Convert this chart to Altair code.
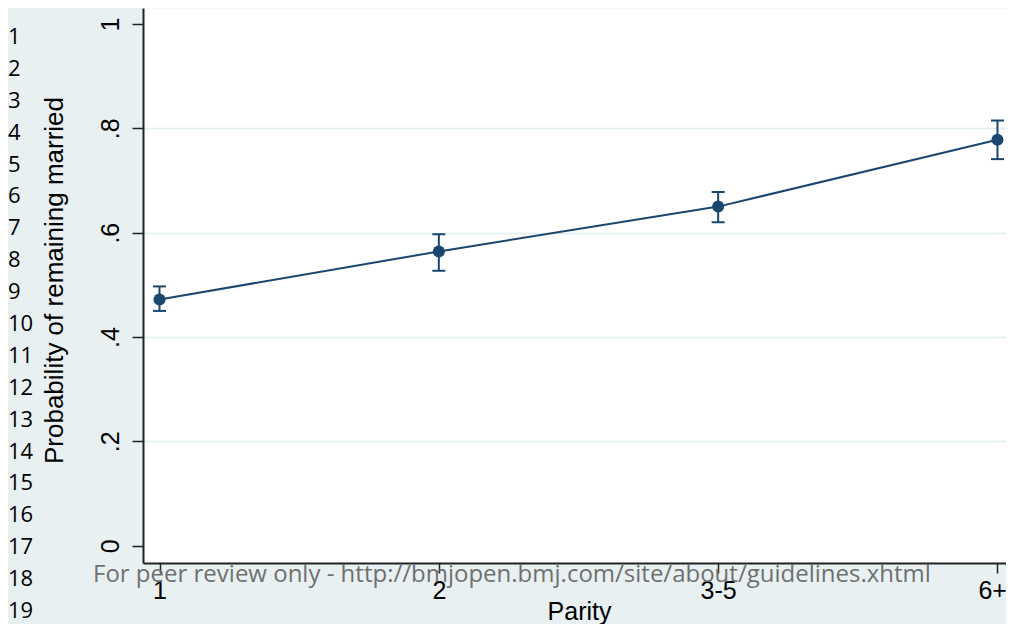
import json
import altair as alt
import pandas as pd

# ---- data ----
parity_labels = ["1", "2", "3-5", "6+"]
parity_pos = [1, 2, 3, 4]
prob = [0.472, 0.564, 0.650, 0.778]
ci_low = [0.450, 0.527, 0.620, 0.741]
ci_high = [0.497, 0.597, 0.678, 0.815]
y_ticks = [0, 0.2, 0.4, 0.6, 0.8, 1]
y_tick_labels = ["0", ".2", ".4", ".6", ".8", "1"]
line_numbers = list(range(1, 20))
watermark = "For peer review only - http://bmjopen.bmj.com/site/about/guidelines.xhtml"

df = pd.DataFrame({"pos": parity_pos, "parity": parity_labels,
                   "prob": prob, "lo": ci_low, "hi": ci_high})

NAVY = "#1a476f"
BG = "#E8F0F2"
GRID = "#E4EDEF"
AXC = "#222222"
FONT = "Liberation Sans"

xs = alt.Scale(domain=[0.9409, 4.0305], nice=False, zero=False)
ys = alt.Scale(domain=[-0.0332, 1.0307], nice=False, zero=False)

x_label_expr = json.dumps([""] + parity_labels) + "[round(datum.value)]"
y_label_expr = json.dumps(y_tick_labels) + "[round(datum.value * 5)]"
last_x = "datum.value == %d" % parity_pos[-1]

x_axis = alt.Axis(
    values=parity_pos, labelExpr=x_label_expr, title="Parity", grid=False,
    labelFlush=False, labelOverlap=False, labelBaseline="alphabetic",
    labelAlign={"condition": {"test": last_x, "value": "right"}, "value": "center"},
    labelOffset={"condition": {"test": last_x, "value": 9}, "value": 0},
    labelPadding=25, tickSize=10,
    titleX=436, titleY=56, titleBaseline="alphabetic", titleAlign="center",
)
y_axis = alt.Axis(
    values=y_ticks, labelExpr=y_label_expr, title="Probability of remaining married",
    grid=True,
    gridColor={"condition": {"test": "datum.value == 0 || datum.value == 1", "value": "white"},
               "value": GRID},
    labelFlush=False, labelOverlap=False, labelAngle=270, labelAlign="center",
    labelBaseline="alphabetic", labelPadding=14, tickSize=11,
    titleAngle=270, titleX=-81, titleY=272, titleAlign="center", titleBaseline="alphabetic",
    titleFontSize=26,
)

base = alt.Chart(df)
X = alt.X("pos:Q", scale=xs, axis=x_axis)

line = base.mark_line(color=NAVY, strokeWidth=2).encode(
    x=X, y=alt.Y("prob:Q", scale=ys, axis=y_axis))
bars = base.mark_rule(color=NAVY, strokeWidth=2).encode(
    x="pos:Q", y=alt.Y("lo:Q", scale=ys), y2="hi:Q")
cap_lo = base.mark_tick(color=NAVY, orient="horizontal", size=13, thickness=2, opacity=1).encode(
    x="pos:Q", y=alt.Y("lo:Q", scale=ys))
cap_hi = base.mark_tick(color=NAVY, orient="horizontal", size=13, thickness=2, opacity=1).encode(
    x="pos:Q", y=alt.Y("hi:Q", scale=ys))
pts = base.mark_circle(color=NAVY, size=145, opacity=1).encode(
    x="pos:Q", y=alt.Y("prob:Q", scale=ys))

wm = alt.Chart(pd.DataFrame({"t": [watermark]})).mark_text(
    font="Open Sans", fontSize=24, color="#707070", align="left", baseline="alphabetic"
).encode(x=alt.value(-50), y=alt.value(574), text="t:N")

main = alt.layer(wm, line, bars, cap_lo, cap_hi, pts)

nums = alt.Chart(pd.DataFrame({"n": line_numbers})).mark_text(
    font="Open Sans", fontSize=22, color="black", align="left", baseline="middle"
).encode(
    x=alt.value(-135),
    y=alt.Y("n:Q", scale=alt.Scale(domain=[1, 19], range=[29, 603]), axis=None),
    text="n:Q",
)

chart = alt.layer(main, nums).resolve_scale(y="independent").properties(
    width=863, height=555,
    autosize=alt.AutoSizeParams(type="none"),
    padding={"left": 135, "top": 0, "right": 0, "bottom": 61},
    background=BG,
).configure_view(fill="white", stroke="transparent").configure_axis(
    domainColor=AXC, domainWidth=2, tickColor=AXC, tickWidth=1.5,
    labelFont=FONT, labelFontSize=25, labelColor="black",
    titleFont=FONT, titleFontSize=25, titleFontWeight="normal", titleColor="black",
    gridWidth=1.5,
)

chart.save("out.html", embed_options={"renderer": "svg", "actions": False})
